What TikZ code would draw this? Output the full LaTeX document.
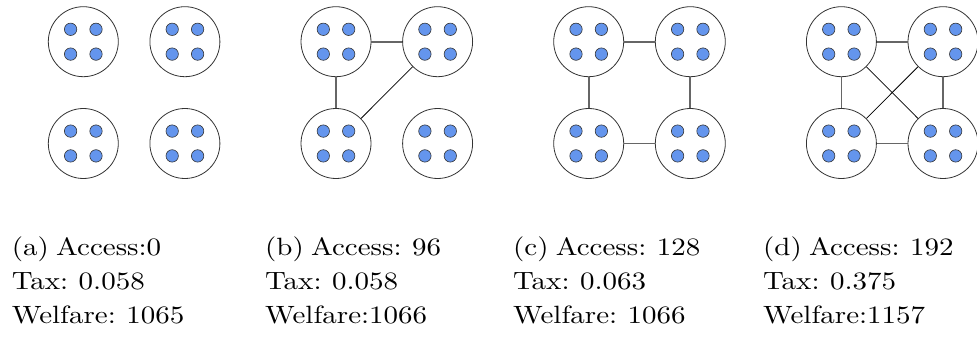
\documentclass[tikz,border=0pt]{standalone}
\usepackage{fontspec}
\setmainfont{lmroman10-regular.otf}[FakeStretch=1.16, WordSpace=0.75]
\definecolor{dotblue}{HTML}{6495ED}
\definecolor{rimgray}{HTML}{333333}
\definecolor{edgegray}{HTML}{666666}
\tikzset{
  cluster/.style={circle, draw=rimgray, line width=0.8pt, minimum size=70pt, inner sep=0pt},
  member/.style={circle, draw=rimgray, line width=0.6pt, fill=dotblue, minimum size=12.4pt, inner sep=0pt},
  straightedge/.style={draw=edgegray, line width=1.8pt},
  crossedge/.style={draw=black, line width=0.8pt},
  caption/.style={anchor=base west, inner sep=0pt, font=\fontsize{25}{30}\selectfont}
}
\begin{document}
\begin{tikzpicture}[x=1pt,y=-1pt]
\useasboundingbox (0,0) rectangle (977,337);
\foreach \k/\dx in {a/0, b/252.7, c/505.4, d/758.1}{
  \foreach \q/\cx/\cy in {1/83.3/41.7, 2/184.9/41.7, 3/83.3/143.5, 4/184.9/143.5}{
    \node[cluster] (\k\q) at (\cx+\dx,\cy) {};
    \node[member] (\k\q m1) at (\cx+\dx-12.7,\cy-12.4) {};
    \node[member] (\k\q m2) at (\cx+\dx+12.7,\cy-12.4) {};
    \node[member] (\k\q m3) at (\cx+\dx-12.7,\cy+12.4) {};
    \node[member] (\k\q m4) at (\cx+\dx+12.7,\cy+12.4) {};
  }
}
% (b)
\draw[straightedge] (b1) -- (b2);
\draw[straightedge] (b1) -- (b3);
\draw[crossedge] (b2) -- (b3);
% (c)
\draw[straightedge] (c1) -- (c2);
\draw[straightedge] (c1) -- (c3);
\draw[straightedge] (c2) -- (c4);
\draw[straightedge] (c3) -- (c4);
% (d)
\draw[straightedge] (d1) -- (d2);
\draw[straightedge] (d1) -- (d3);
\draw[straightedge] (d2) -- (d4);
\draw[straightedge] (d3) -- (d4);
\draw[crossedge] (d1) -- (d4);
\draw[crossedge] (d2) -- (d3);
% captions
\node[caption] (ta1) at (11.7,255.5) {(a) Access:0};
\node[caption] (ta2) at (11.7,289.5) {Tax: 0.058};
\node[caption] (ta3) at (11.7,323.5) {Welfare: 1065};
\node[caption] (tb1) at (265,255.5) {(b) Access: 96};
\node[caption] (tb2) at (265,289.5) {Tax: 0.058};
\node[caption] (tb3) at (265,323.5) {Welfare:1066};
\node[caption] (tc1) at (513,255.5) {(c) Access: 128};
\node[caption] (tc2) at (513,289.5) {Tax: 0.063};
\node[caption] (tc3) at (513,323.5) {Welfare: 1066};
\node[caption] (td1) at (763,255.5) {(d) Access: 192};
\node[caption] (td2) at (763,289.5) {Tax: 0.375};
\node[caption] (td3) at (763,323.5) {Welfare:1157};
\end{tikzpicture}
\end{document}
